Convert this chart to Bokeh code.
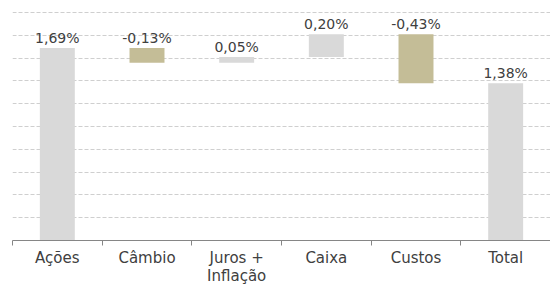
from bokeh.plotting import figure
from bokeh.models import FixedTicker, ColumnDataSource, Range1d, LabelSet
from bokeh.core.properties import value
from bokeh.embed import file_html
from bokeh.resources import INLINE

# ---- data ----
categories = ["Ações", "Câmbio", "Juros +\nInflação", "Caixa", "Custos", "Total"]
changes = [1.69, -0.13, 0.05, 0.20, -0.43, 1.38]
is_total = [False, False, False, False, False, True]
y_ticks = [0.0, 0.2, 0.4, 0.6, 0.8, 1.0, 1.2, 1.4, 1.6, 1.8, 2.0]

GRAY = "#D9D9D9"
TAN = "#C4BD97"
TXT = "#404040"
FONT = "DejaVu Sans"

# waterfall geometry
n = len(categories)
xs, bottoms, tops, colors, labels = [], [], [], [], []
running = 0.0
for i, (v, t) in enumerate(zip(changes, is_total)):
    xs.append(i + 0.5)
    if t:
        b, tp = 0.0, v
        running = v
        colors.append(GRAY)
    else:
        start, end = running, running + v
        b, tp = min(start, end), max(start, end)
        running = end
        colors.append(GRAY if v >= 0 else TAN)
    bottoms.append(b)
    tops.append(tp)
    labels.append(f"{v:.2f}%".replace(".", ","))

src = ColumnDataSource(dict(x=xs, bottom=bottoms, top=tops, color=colors, label=labels))

p = figure(width=550, height=287, x_range=Range1d(0, n),
           y_range=Range1d(y_ticks[0], y_ticks[-1] + 0.01),
           output_backend="svg", toolbar_location=None,
           min_border_left=12, min_border_right=0, min_border_top=11, min_border_bottom=10,
           outline_line_color=None, background_fill_color="white", border_fill_color="white")

p.vbar(x="x", bottom="bottom", top="top", width=0.39, fill_color="color",
       line_color=None, source=src)

# value labels
p.add_layout(LabelSet(x="x", y="top", text="label", source=src, y_offset=5,
                      text_align="center", text_baseline="alphabetic",
                      text_font=value(FONT), text_font_size="14px", text_color=TXT))

# y axis hidden, grid dashed
p.yaxis.visible = False
p.yaxis.ticker = FixedTicker(ticks=y_ticks)
p.ygrid.ticker = FixedTicker(ticks=y_ticks)
p.ygrid.grid_line_color = "#CFCFCF"
p.ygrid.grid_line_dash = "4 2"
p.xgrid.visible = False

# x axis: labels at category centres, tick marks between categories
p.xaxis.ticker = FixedTicker(ticks=xs, minor_ticks=list(range(n + 1)))
p.xaxis.major_label_overrides = {x: c for x, c in zip(xs, categories)}
p.xaxis.axis_line_color = "#868686"
p.xaxis.major_tick_line_color = None
p.xaxis.major_tick_out = 0
p.xaxis.major_tick_in = 0
p.xaxis.minor_tick_line_color = "#868686"
p.xaxis.minor_tick_out = 5
p.xaxis.minor_tick_in = 0
p.xaxis.major_label_standoff = 3
p.xaxis.major_label_text_font = FONT
p.xaxis.major_label_text_font_size = "15px"
p.xaxis.major_label_text_color = TXT
p.xaxis.major_label_text_line_height = 1.0

open("out.html", "w").write(file_html(p, INLINE))
